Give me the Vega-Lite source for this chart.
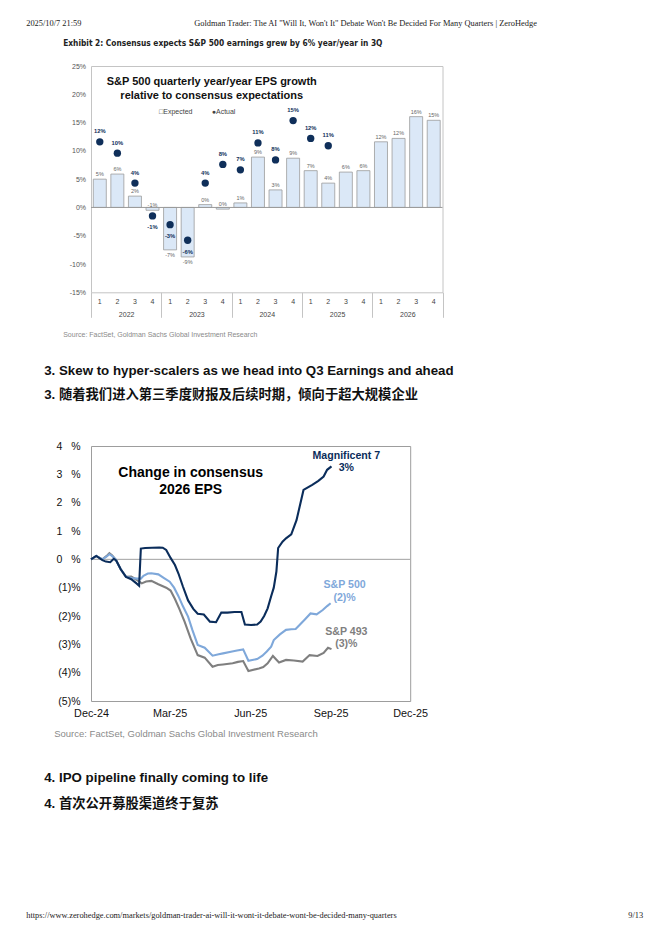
{
"$schema": "https://vega.github.io/schema/vega-lite/v6.json",
"background": "white",
"padding": {"left": 26, "top": 0, "right": 0, "bottom": 0},
"spacing": 0,
"bounds": "flush",
"center": false,
"config": {"font": "Liberation Sans", "view": {"stroke": null}, "axis": {"grid": false, "labelOverlap": false}},
"datasets": {
"eps": [
{"q":"2022-1","exp":5.0,"act":11.6,"el":"5%","al":"12%"},
{"q":"2022-2","exp":5.9,"act":9.6,"el":"6%","al":"10%"},
{"q":"2022-3","exp":2.0,"act":4.3,"el":"2%","al":"4%"},
{"q":"2022-4","exp":-0.5,"act":-1.5,"el":"-1%","al":"-1%"},
{"q":"2023-1","exp":-7.5,"act":-3.05,"el":"-7%","al":"-3%"},
{"q":"2023-2","exp":-8.75,"act":-5.8,"el":"-9%","al":"-6%"},
{"q":"2023-3","exp":0.5,"act":4.3,"el":"0%","al":"4%"},
{"q":"2023-4","exp":-0.3,"act":7.6,"el":"0%","al":"8%"},
{"q":"2024-1","exp":0.8,"act":6.65,"el":"1%","al":"7%"},
{"q":"2024-2","exp":8.9,"act":11.4,"el":"9%","al":"11%"},
{"q":"2024-3","exp":3.1,"act":8.4,"el":"3%","al":"8%"},
{"q":"2024-4","exp":8.7,"act":15.35,"el":"9%","al":"15%"},
{"q":"2025-1","exp":6.5,"act":12.2,"el":"7%","al":"12%"},
{"q":"2025-2","exp":4.3,"act":10.9,"el":"4%","al":"11%"},
{"q":"2025-3","exp":6.25,"act":null,"el":"6%","al":null},
{"q":"2025-4","exp":6.5,"act":null,"el":"6%","al":null},
{"q":"2026-1","exp":11.6,"act":null,"el":"12%","al":null},
{"q":"2026-2","exp":12.2,"act":null,"el":"12%","al":null},
{"q":"2026-3","exp":16.05,"act":null,"el":"16%","al":null},
{"q":"2026-4","exp":15.4,"act":null,"el":"15%","al":null}
],
"lines": [
{"s":"S&P 493","d":"2024-12-01","v":0},{"s":"S&P 493","d":"2024-12-07","v":0.12},{"s":"S&P 493","d":"2024-12-14","v":0.0},{"s":"S&P 493","d":"2024-12-19","v":0.12},{"s":"S&P 493","d":"2024-12-22","v":0.22},{"s":"S&P 493","d":"2024-12-25","v":0.14},{"s":"S&P 493","d":"2024-12-29","v":0.0},{"s":"S&P 493","d":"2025-01-04","v":-0.35},{"s":"S&P 493","d":"2025-01-10","v":-0.62},{"s":"S&P 493","d":"2025-01-16","v":-0.61},{"s":"S&P 493","d":"2025-01-22","v":-0.72},{"s":"S&P 493","d":"2025-01-28","v":-0.85},{"s":"S&P 493","d":"2025-02-02","v":-0.78},{"s":"S&P 493","d":"2025-02-08","v":-0.76},{"s":"S&P 493","d":"2025-02-16","v":-0.88},{"s":"S&P 493","d":"2025-02-25","v":-1.0},{"s":"S&P 493","d":"2025-03-02","v":-1.1},{"s":"S&P 493","d":"2025-03-07","v":-1.4},{"s":"S&P 493","d":"2025-03-12","v":-1.75},{"s":"S&P 493","d":"2025-03-18","v":-2.2},{"s":"S&P 493","d":"2025-03-25","v":-2.8},{"s":"S&P 493","d":"2025-04-02","v":-3.38},{"s":"S&P 493","d":"2025-04-10","v":-3.47},{"s":"S&P 493","d":"2025-04-19","v":-3.79},{"s":"S&P 493","d":"2025-04-25","v":-3.73},{"s":"S&P 493","d":"2025-05-01","v":-3.71},{"s":"S&P 493","d":"2025-05-12","v":-3.67},{"s":"S&P 493","d":"2025-05-18","v":-3.62},{"s":"S&P 493","d":"2025-05-24","v":-3.59},{"s":"S&P 493","d":"2025-05-30","v":-3.94},{"s":"S&P 493","d":"2025-06-11","v":-3.85},{"s":"S&P 493","d":"2025-06-16","v":-3.8},{"s":"S&P 493","d":"2025-06-21","v":-3.67},{"s":"S&P 493","d":"2025-06-27","v":-3.41},{"s":"S&P 493","d":"2025-07-04","v":-3.64},{"s":"S&P 493","d":"2025-07-12","v":-3.55},{"s":"S&P 493","d":"2025-07-21","v":-3.57},{"s":"S&P 493","d":"2025-07-31","v":-3.61},{"s":"S&P 493","d":"2025-08-08","v":-3.38},{"s":"S&P 493","d":"2025-08-17","v":-3.41},{"s":"S&P 493","d":"2025-08-24","v":-3.3},{"s":"S&P 493","d":"2025-08-29","v":-3.12},{"s":"S&P 493","d":"2025-09-02","v":-3.17},
{"s":"S&P 500","d":"2024-12-01","v":0},{"s":"S&P 500","d":"2024-12-07","v":0.12},{"s":"S&P 500","d":"2024-12-14","v":0.0},{"s":"S&P 500","d":"2024-12-19","v":0.1},{"s":"S&P 500","d":"2024-12-22","v":0.18},{"s":"S&P 500","d":"2024-12-25","v":0.12},{"s":"S&P 500","d":"2024-12-29","v":0.0},{"s":"S&P 500","d":"2025-01-04","v":-0.35},{"s":"S&P 500","d":"2025-01-10","v":-0.62},{"s":"S&P 500","d":"2025-01-17","v":-0.66},{"s":"S&P 500","d":"2025-01-23","v":-0.68},{"s":"S&P 500","d":"2025-01-27","v":-0.68},{"s":"S&P 500","d":"2025-01-30","v":-0.58},{"s":"S&P 500","d":"2025-02-04","v":-0.5},{"s":"S&P 500","d":"2025-02-08","v":-0.49},{"s":"S&P 500","d":"2025-02-16","v":-0.53},{"s":"S&P 500","d":"2025-02-23","v":-0.67},{"s":"S&P 500","d":"2025-03-01","v":-0.79},{"s":"S&P 500","d":"2025-03-06","v":-1.0},{"s":"S&P 500","d":"2025-03-11","v":-1.3},{"s":"S&P 500","d":"2025-03-16","v":-1.65},{"s":"S&P 500","d":"2025-03-22","v":-2.02},{"s":"S&P 500","d":"2025-03-27","v":-2.5},{"s":"S&P 500","d":"2025-04-02","v":-3.02},{"s":"S&P 500","d":"2025-04-10","v":-3.12},{"s":"S&P 500","d":"2025-04-19","v":-3.4},{"s":"S&P 500","d":"2025-04-26","v":-3.35},{"s":"S&P 500","d":"2025-05-01","v":-3.32},{"s":"S&P 500","d":"2025-05-10","v":-3.26},{"s":"S&P 500","d":"2025-05-17","v":-3.22},{"s":"S&P 500","d":"2025-05-24","v":-3.18},{"s":"S&P 500","d":"2025-05-30","v":-3.58},{"s":"S&P 500","d":"2025-06-09","v":-3.52},{"s":"S&P 500","d":"2025-06-15","v":-3.4},{"s":"S&P 500","d":"2025-06-20","v":-3.25},{"s":"S&P 500","d":"2025-06-25","v":-3.08},{"s":"S&P 500","d":"2025-06-28","v":-2.85},{"s":"S&P 500","d":"2025-07-05","v":-2.65},{"s":"S&P 500","d":"2025-07-12","v":-2.49},{"s":"S&P 500","d":"2025-07-18","v":-2.47},{"s":"S&P 500","d":"2025-07-23","v":-2.46},{"s":"S&P 500","d":"2025-07-28","v":-2.3},{"s":"S&P 500","d":"2025-08-02","v":-2.14},{"s":"S&P 500","d":"2025-08-09","v":-1.91},{"s":"S&P 500","d":"2025-08-16","v":-1.94},{"s":"S&P 500","d":"2025-08-23","v":-1.79},{"s":"S&P 500","d":"2025-08-28","v":-1.65},{"s":"S&P 500","d":"2025-09-01","v":-1.55},
{"s":"Magnificent 7","d":"2024-12-01","v":0},{"s":"Magnificent 7","d":"2024-12-07","v":0.12},{"s":"Magnificent 7","d":"2024-12-14","v":-0.03},{"s":"Magnificent 7","d":"2024-12-18","v":-0.08},{"s":"Magnificent 7","d":"2024-12-23","v":-0.1},{"s":"Magnificent 7","d":"2024-12-27","v":0.02},{"s":"Magnificent 7","d":"2024-12-30","v":-0.05},{"s":"Magnificent 7","d":"2025-01-04","v":-0.35},{"s":"Magnificent 7","d":"2025-01-10","v":-0.62},{"s":"Magnificent 7","d":"2025-01-16","v":-0.7},{"s":"Magnificent 7","d":"2025-01-22","v":-0.85},{"s":"Magnificent 7","d":"2025-01-25","v":-0.93},{"s":"Magnificent 7","d":"2025-01-27","v":0.38},{"s":"Magnificent 7","d":"2025-02-01","v":0.4},{"s":"Magnificent 7","d":"2025-02-09","v":0.41},{"s":"Magnificent 7","d":"2025-02-17","v":0.42},{"s":"Magnificent 7","d":"2025-02-21","v":0.41},{"s":"Magnificent 7","d":"2025-02-25","v":0.33},{"s":"Magnificent 7","d":"2025-03-02","v":0.05},{"s":"Magnificent 7","d":"2025-03-07","v":-0.2},{"s":"Magnificent 7","d":"2025-03-11","v":-0.5},{"s":"Magnificent 7","d":"2025-03-16","v":-0.95},{"s":"Magnificent 7","d":"2025-03-22","v":-1.45},{"s":"Magnificent 7","d":"2025-03-28","v":-1.75},{"s":"Magnificent 7","d":"2025-04-02","v":-1.92},{"s":"Magnificent 7","d":"2025-04-09","v":-1.95},{"s":"Magnificent 7","d":"2025-04-16","v":-2.2},{"s":"Magnificent 7","d":"2025-04-23","v":-2.22},{"s":"Magnificent 7","d":"2025-04-29","v":-1.88},{"s":"Magnificent 7","d":"2025-05-06","v":-1.88},{"s":"Magnificent 7","d":"2025-05-14","v":-1.86},{"s":"Magnificent 7","d":"2025-05-22","v":-1.86},{"s":"Magnificent 7","d":"2025-05-26","v":-2.3},{"s":"Magnificent 7","d":"2025-06-02","v":-2.32},{"s":"Magnificent 7","d":"2025-06-09","v":-2.3},{"s":"Magnificent 7","d":"2025-06-13","v":-2.2},{"s":"Magnificent 7","d":"2025-06-17","v":-2.0},{"s":"Magnificent 7","d":"2025-06-21","v":-1.73},{"s":"Magnificent 7","d":"2025-06-25","v":-1.3},{"s":"Magnificent 7","d":"2025-06-28","v":-1.0},{"s":"Magnificent 7","d":"2025-07-01","v":-0.43},{"s":"Magnificent 7","d":"2025-07-03","v":0.4},{"s":"Magnificent 7","d":"2025-07-08","v":0.62},{"s":"Magnificent 7","d":"2025-07-12","v":0.74},{"s":"Magnificent 7","d":"2025-07-18","v":0.88},{"s":"Magnificent 7","d":"2025-07-24","v":1.38},{"s":"Magnificent 7","d":"2025-08-01","v":2.45},{"s":"Magnificent 7","d":"2025-08-11","v":2.63},{"s":"Magnificent 7","d":"2025-08-18","v":2.77},{"s":"Magnificent 7","d":"2025-08-24","v":2.92},{"s":"Magnificent 7","d":"2025-08-28","v":3.16},{"s":"Magnificent 7","d":"2025-09-02","v":3.28}
],
"notes2": [
{"s":"Magnificent 7","d":"2025-09-19","v":3.66,"t":"Magnificent 7"},
{"s":"Magnificent 7","d":"2025-09-19","v":3.22,"t":"3%"},
{"s":"S&P 500","d":"2025-09-17","v":-0.9,"t":"S&P 500"},
{"s":"S&P 500","d":"2025-09-17","v":-1.35,"t":"(2)%"},
{"s":"S&P 493","d":"2025-09-19","v":-2.55,"t":"S&P 493"},
{"s":"S&P 493","d":"2025-09-19","v":-3.0,"t":"(3)%"}
]
},
"vconcat": [
{"width": 552.2, "height": 22, "data": {"values": []}, "mark": {"type": "point", "opacity": 0},
 "title": {"text": "2025/10/7 21:59", "orient": "top", "anchor": "start", "frame": "group", "align": "left", "baseline": "top", "offset": -26.9, "dx": -64.8, "font": "Liberation Serif", "fontSize": 8.4, "fontWeight": "normal", "color": "#222"}},
{"width": 552.2, "height": 44, "data": {"values": []}, "mark": {"type": "point", "opacity": 0},
 "title": {"text": "Goldman Trader: The AI \"Will It, Won't It\" Debate Won't Be Decided For Many Quarters | ZeroHedge", "orient": "top", "anchor": "start", "frame": "group", "align": "left", "baseline": "top", "offset": -4.9, "dx": 103.2, "font": "Liberation Serif", "fontSize": 8.4, "fontWeight": "normal", "color": "#222"}},
{"width": 351.5, "height": 226.3,
 "view": {"stroke": "#c4c4c4"},
 "title": {"text": "Exhibit 2: Consensus expects S&P 500 earnings grew by 6% year/year in 3Q", "orient": "top", "anchor": "start", "frame": "group", "align": "left", "baseline": "top", "offset": 15, "dx": -27.8, "font": "Liberation Sans Narrow, DejaVu Sans Condensed, sans-serif", "fontSize": 8.3, "fontWeight": "bold", "color": "#222"},
 "resolve": {"scale": {"x": "independent"}, "axis": {"x": "independent"}},
 "layer": [
  {"data": {"name": "eps"},
   "layer": [
    {"mark": {"type": "bar", "fill": "#dbe8f7", "stroke": "#9c9c9c", "strokeWidth": 0.8},
     "encoding": {
      "x": {"field": "q", "type": "nominal", "title": null, "scale": {"domain": ["2022-1","2022-2","2022-3","2022-4","2023-1","2023-2","2023-3","2023-4","2024-1","2024-2","2024-3","2024-4","2025-1","2025-2","2025-3","2025-4","2026-1","2026-2","2026-3","2026-4"], "paddingInner": 0.26, "paddingOuter": 0.13},
            "axis": {"orient": "bottom", "labelExpr": "slice(datum.value, 5)", "labelFontSize": 7, "labelColor": "#444", "labelPadding": 5.2, "labelAngle": 0, "labelOverlap": false, "ticks": false, "domain": false, "title": null}},
      "y": {"field": "exp", "type": "quantitative", "title": null, "scale": {"domain": [-15, 25], "nice": false},
            "axis": {"values": [-15,-10,-5,0,5,10,15,20,25], "tickCount": 30, "labelExpr": "datum.value + '%'", "labelFontSize": 7, "labelColor": "#555", "labelPadding": 5.5, "labelOverlap": false, "ticks": false, "domain": false, "grid": false, "title": null}}
     }},
    {"data": {"values": [{}]}, "mark": {"type": "rule", "color": "#9a9a9a", "strokeWidth": 1},
     "encoding": {"y": {"datum": 0, "type": "quantitative", "scale": {"domain": [-15, 25], "nice": false}, "title": null}}},
    {"mark": {"type": "circle", "size": 54, "color": "#0f2f5a", "opacity": 1},
     "encoding": {
      "x": {"field": "q", "type": "nominal", "title": null, "scale": {"domain": ["2022-1","2022-2","2022-3","2022-4","2023-1","2023-2","2023-3","2023-4","2024-1","2024-2","2024-3","2024-4","2025-1","2025-2","2025-3","2025-4","2026-1","2026-2","2026-3","2026-4"], "paddingInner": 0.26, "paddingOuter": 0.13}},
      "y": {"field": "act", "type": "quantitative", "title": null, "scale": {"domain": [-15, 25], "nice": false}}
     }},
    {"transform": [{"filter": "datum.exp >= -0.5"}],
     "mark": {"type": "text", "fontSize": 5.5, "color": "#666", "baseline": "middle", "dy": -5},
     "encoding": {
      "x": {"field": "q", "type": "nominal", "title": null, "scale": {"domain": ["2022-1","2022-2","2022-3","2022-4","2023-1","2023-2","2023-3","2023-4","2024-1","2024-2","2024-3","2024-4","2025-1","2025-2","2025-3","2025-4","2026-1","2026-2","2026-3","2026-4"], "paddingInner": 0.26, "paddingOuter": 0.13}},
      "y": {"field": "exp", "type": "quantitative", "title": null, "scale": {"domain": [-15, 25], "nice": false}},
      "text": {"field": "el"}
     }},
    {"transform": [{"filter": "datum.exp < -0.5"}],
     "mark": {"type": "text", "fontSize": 5.5, "color": "#666", "baseline": "middle", "dy": 5.5},
     "encoding": {
      "x": {"field": "q", "type": "nominal", "title": null, "scale": {"domain": ["2022-1","2022-2","2022-3","2022-4","2023-1","2023-2","2023-3","2023-4","2024-1","2024-2","2024-3","2024-4","2025-1","2025-2","2025-3","2025-4","2026-1","2026-2","2026-3","2026-4"], "paddingInner": 0.26, "paddingOuter": 0.13}},
      "y": {"field": "exp", "type": "quantitative", "title": null, "scale": {"domain": [-15, 25], "nice": false}},
      "text": {"field": "el"}
     }},
    {"transform": [{"filter": "isValid(datum.act) && datum.act >= 0"}],
     "mark": {"type": "text", "fontSize": 5.8, "fontWeight": "bold", "color": "#0f2f5a", "baseline": "middle", "dy": -10.5},
     "encoding": {
      "x": {"field": "q", "type": "nominal", "title": null, "scale": {"domain": ["2022-1","2022-2","2022-3","2022-4","2023-1","2023-2","2023-3","2023-4","2024-1","2024-2","2024-3","2024-4","2025-1","2025-2","2025-3","2025-4","2026-1","2026-2","2026-3","2026-4"], "paddingInner": 0.26, "paddingOuter": 0.13}},
      "y": {"field": "act", "type": "quantitative", "title": null, "scale": {"domain": [-15, 25], "nice": false}},
      "text": {"field": "al"}
     }},
    {"transform": [{"filter": "isValid(datum.act) && datum.act < 0"}],
     "mark": {"type": "text", "fontSize": 5.8, "fontWeight": "bold", "color": "#0f2f5a", "baseline": "middle", "dy": 11.5},
     "encoding": {
      "x": {"field": "q", "type": "nominal", "title": null, "scale": {"domain": ["2022-1","2022-2","2022-3","2022-4","2023-1","2023-2","2023-3","2023-4","2024-1","2024-2","2024-3","2024-4","2025-1","2025-2","2025-3","2025-4","2026-1","2026-2","2026-3","2026-4"], "paddingInner": 0.26, "paddingOuter": 0.13}},
      "y": {"field": "act", "type": "quantitative", "title": null, "scale": {"domain": [-15, 25], "nice": false}},
      "text": {"field": "al"}
     }},
    {"data": {"values": [{"q": "2023-3", "v": 22.2, "t": "S&P 500 quarterly year/year EPS growth"}, {"q": "2023-3", "v": 19.7, "t": "relative to consensus expectations"}]},
     "mark": {"type": "text", "fontSize": 11, "fontWeight": "bold", "color": "#111", "align": "center", "baseline": "middle"},
     "encoding": {
      "x": {"field": "q", "type": "nominal", "bandPosition": 1, "title": null, "scale": {"domain": ["2022-1","2022-2","2022-3","2022-4","2023-1","2023-2","2023-3","2023-4","2024-1","2024-2","2024-3","2024-4","2025-1","2025-2","2025-3","2025-4","2026-1","2026-2","2026-3","2026-4"], "paddingInner": 0.26, "paddingOuter": 0.13}},
      "y": {"field": "v", "type": "quantitative", "title": null, "scale": {"domain": [-15, 25], "nice": false}},
      "text": {"field": "t"}
     }},
    {"data": {"values": [{"q": "2022-4", "v": 16.9, "t": "□Expected"}, {"q": "2023-3", "v": 16.9, "t": "●Actual"}]},
     "mark": {"type": "text", "fontSize": 7, "color": "#444", "align": "left", "baseline": "middle"},
     "encoding": {
      "x": {"field": "q", "type": "nominal", "bandPosition": 1, "title": null, "scale": {"domain": ["2022-1","2022-2","2022-3","2022-4","2023-1","2023-2","2023-3","2023-4","2024-1","2024-2","2024-3","2024-4","2025-1","2025-2","2025-3","2025-4","2026-1","2026-2","2026-3","2026-4"], "paddingInner": 0.26, "paddingOuter": 0.13}},
      "y": {"field": "v", "type": "quantitative", "title": null, "scale": {"domain": [-15, 25], "nice": false}},
      "text": {"field": "t"}
     }}
   ]},
  {"data": {"values": [{"year": "2022"}, {"year": "2023"}, {"year": "2024"}, {"year": "2025"}, {"year": "2026"}]},
   "mark": {"type": "text", "opacity": 0},
   "encoding": {
    "x": {"field": "year", "type": "nominal", "title": null, "scale": {"domain": ["2022","2023","2024","2025","2026"], "paddingInner": 0, "paddingOuter": 0},
          "axis": {"orient": "bottom", "tickBand": "extent", "ticks": true, "tickSize": 25, "tickColor": "#c4c4c4", "tickWidth": 1, "domain": false, "labelPadding": -6.8, "labelFontSize": 7, "labelColor": "#444", "labelAngle": 0, "title": null}}
   }}
 ]},
{"width": 552.2, "height": 152.2, "data": {"values": []}, "mark": {"type": "point", "opacity": 0},
 "title": {"text": "Source: FactSet, Goldman Sachs Global Investment Research", "orient": "top", "anchor": "start", "frame": "group", "align": "left", "baseline": "top", "offset": -45, "dx": -27.8, "fontSize": 7, "fontWeight": "normal", "color": "#8a8a8a"}},
{"width": 319.2, "height": 255,
 "view": {"stroke": "#9d9d9d"},
 "title": {"text": ["3. Skew to hyper-scalers as we head into Q3 Earnings and ahead", "3. 随着我们进入第三季度财报及后续时期，倾向于超大规模企业"], "orient": "top", "anchor": "start", "frame": "group", "align": "left", "baseline": "top", "offset": 39.5, "dx": -46.8, "font": "Liberation Sans, Noto Sans CJK SC", "fontSize": 13.3, "fontWeight": "bold", "lineHeight": 24, "color": "#111"},
 "layer": [
  {"data": {"values": [{}]}, "mark": {"type": "rule", "color": "#a0a0a0", "strokeWidth": 1},
   "encoding": {"y": {"datum": 0, "type": "quantitative", "scale": {"domain": [-5, 4], "nice": false}, "title": null}}},
  {"data": {"name": "lines"},
   "mark": {"type": "line", "strokeWidth": 2.1},
   "encoding": {
    "x": {"field": "d", "type": "temporal", "title": null,
          "scale": {"type": "utc", "domain": [{"year": 2024, "month": 12, "date": 1, "utc": true}, {"year": 2025, "month": 12, "date": 1, "utc": true}]},
          "axis": {"values": [{"year": 2024, "month": 12, "date": 1, "utc": true}, {"year": 2025, "month": 3, "date": 1, "utc": true}, {"year": 2025, "month": 6, "date": 1, "utc": true}, {"year": 2025, "month": 9, "date": 1, "utc": true}, {"year": 2025, "month": 12, "date": 1, "utc": true}],
                   "tickCount": 30, "format": "%b-%y", "labelFontSize": 10.8, "labelColor": "#111", "labelPadding": 6, "labelFlush": false, "labelOverlap": false, "labelBound": false, "ticks": false, "domain": false, "grid": false, "title": null}},
    "y": {"field": "v", "type": "quantitative", "title": null, "scale": {"domain": [-5, 4], "nice": false},
          "axis": {"values": [-5,-4,-3,-2,-1,0,1,2,3,4], "tickCount": 30, "labelExpr": "datum.value >= 0 ? datum.value + '\u00a0\u00a0\u00a0%' : '(' + (-datum.value) + ')%'", "labelFontSize": 10.5, "labelColor": "#111", "labelPadding": 11, "labelOverlap": false, "ticks": false, "domain": false, "grid": false, "title": null}},
    "color": {"field": "s", "type": "nominal", "legend": null, "scale": {"domain": ["S&P 493", "S&P 500", "Magnificent 7"], "range": ["#7f7f7f", "#7fa8da", "#0b2d5b"]}}
   }},
  {"data": {"name": "notes2"},
   "mark": {"type": "text", "fontSize": 10.6, "fontWeight": "bold", "align": "center", "baseline": "middle"},
   "encoding": {
    "x": {"field": "d", "type": "temporal", "title": null, "scale": {"type": "utc", "domain": [{"year": 2024, "month": 12, "date": 1, "utc": true}, {"year": 2025, "month": 12, "date": 1, "utc": true}]}},
    "y": {"field": "v", "type": "quantitative", "title": null, "scale": {"domain": [-5, 4], "nice": false}},
    "color": {"field": "s", "type": "nominal", "legend": null, "scale": {"domain": ["S&P 493", "S&P 500", "Magnificent 7"], "range": ["#7f7f7f", "#7fa8da", "#0b2d5b"]}},
    "text": {"field": "t"}
   }},
  {"data": {"values": [{"d": "2025-03-25", "v": 3.03, "t": "Change in consensus"}, {"d": "2025-03-25", "v": 2.43, "t": "2026 EPS"}]},
   "mark": {"type": "text", "fontSize": 14, "fontWeight": "bold", "color": "#000", "align": "center", "baseline": "middle"},
   "encoding": {
    "x": {"field": "d", "type": "temporal", "title": null, "scale": {"type": "utc", "domain": [{"year": 2024, "month": 12, "date": 1, "utc": true}, {"year": 2025, "month": 12, "date": 1, "utc": true}]}},
    "y": {"field": "v", "type": "quantitative", "title": null, "scale": {"domain": [-5, 4], "nice": false}},
    "text": {"field": "t"}
   }}
 ]},
{"width": 552.2, "height": 60.5, "data": {"values": []}, "mark": {"type": "point", "opacity": 0},
 "title": {"text": "Source: FactSet, Goldman Sachs Global Investment Research", "orient": "top", "anchor": "start", "frame": "group", "align": "left", "baseline": "top", "offset": -37.1, "dx": -36.8, "fontSize": 9.5, "fontWeight": "normal", "color": "#8a8a8a"}},
{"width": 552.2, "height": 120, "data": {"values": []}, "mark": {"type": "point", "opacity": 0},
 "title": {"text": ["4. IPO pipeline finally coming to life", "4. 首次公开募股渠道终于复苏"], "orient": "top", "anchor": "start", "frame": "group", "align": "left", "baseline": "top", "offset": -48.7, "dx": -46.8, "font": "Liberation Sans, Noto Sans CJK SC", "fontSize": 13.3, "fontWeight": "bold", "lineHeight": 26, "color": "#111"}},
{"width": 552.2, "height": 20, "data": {"values": []}, "mark": {"type": "point", "opacity": 0},
 "title": {"text": "9/13", "orient": "top", "anchor": "end", "frame": "group", "align": "right", "baseline": "top", "offset": -37.5, "font": "Liberation Serif", "fontSize": 8.4, "fontWeight": "normal", "color": "#222"}},
{"width": 552.2, "height": 36, "data": {"values": []}, "mark": {"type": "point", "opacity": 0},
 "title": {"text": "https://www.zerohedge.com/markets/goldman-trader-ai-will-it-wont-it-debate-wont-be-decided-many-quarters", "orient": "top", "anchor": "start", "frame": "group", "align": "left", "baseline": "top", "offset": -17.5, "dx": -64.8, "font": "Liberation Serif", "fontSize": 8.4, "fontWeight": "normal", "color": "#222"}}
]
}
